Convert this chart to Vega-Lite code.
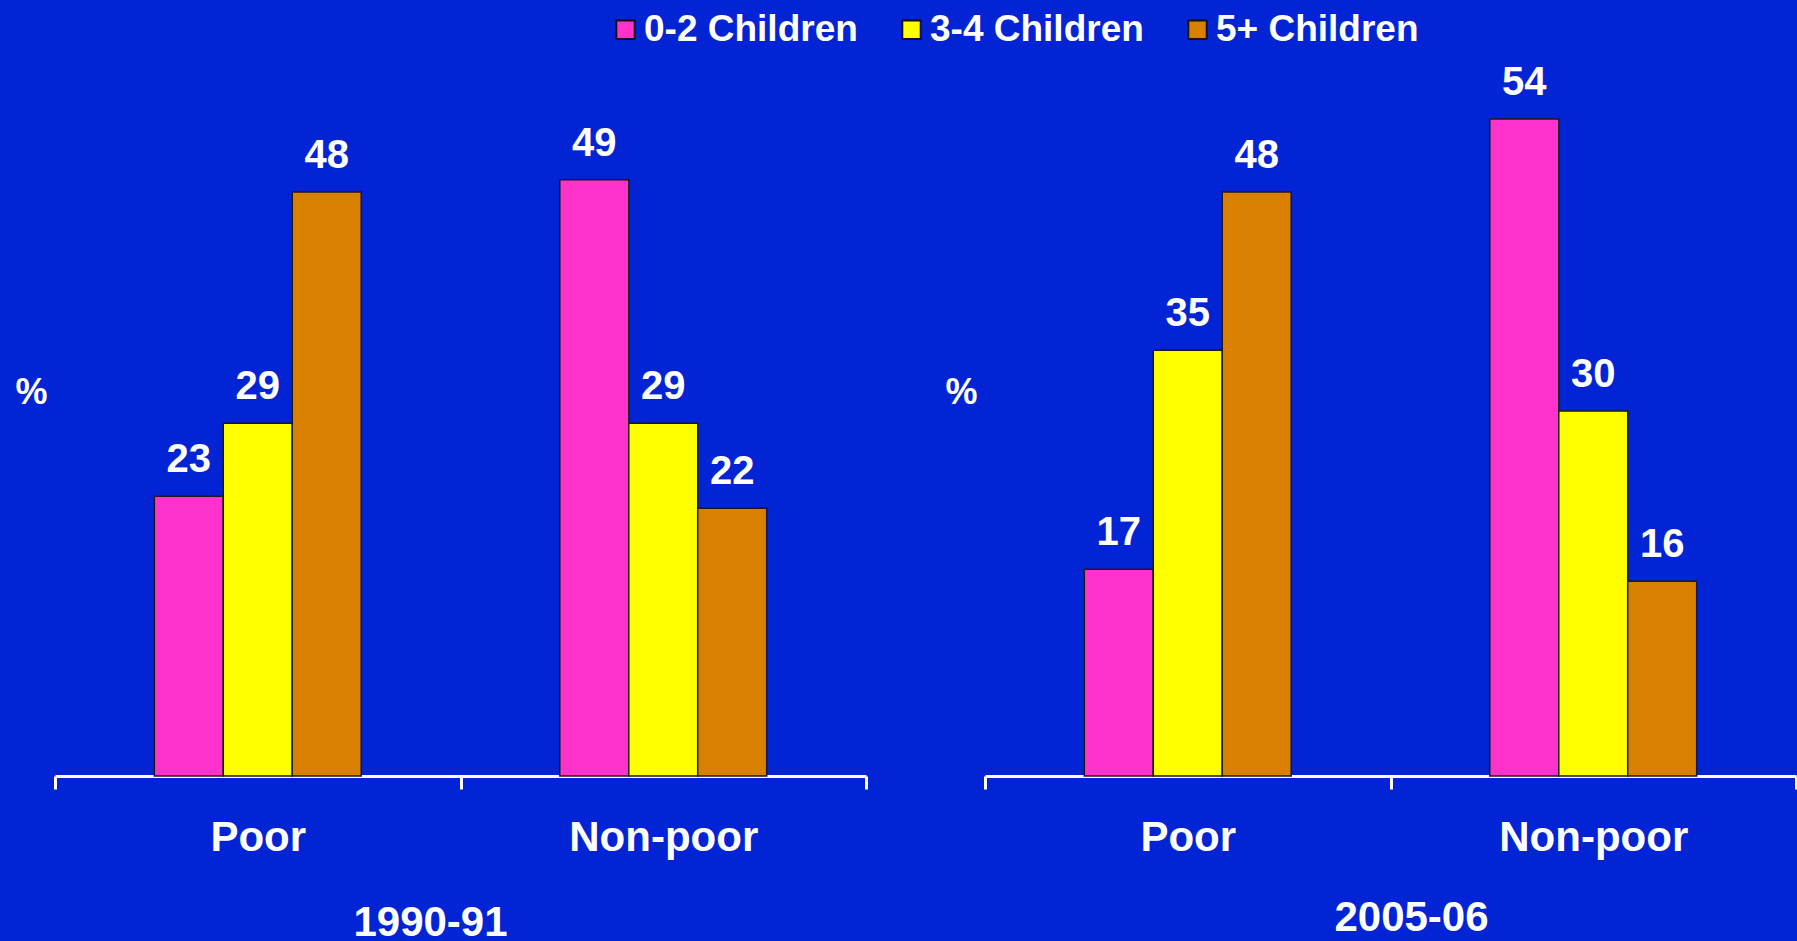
{
  "$schema": "https://vega.github.io/schema/vega-lite/v6.json",
  "background": "#0224D4",
  "padding": {"left": 14, "top": 11, "right": 0, "bottom": 0},
  "data": {"values": [
    {"period": "1990-91", "status": "Poor", "group": "0-2 Children", "value": 23},
    {"period": "1990-91", "status": "Poor", "group": "3-4 Children", "value": 29},
    {"period": "1990-91", "status": "Poor", "group": "5+ Children", "value": 48},
    {"period": "1990-91", "status": "Non-poor", "group": "0-2 Children", "value": 49},
    {"period": "1990-91", "status": "Non-poor", "group": "3-4 Children", "value": 29},
    {"period": "1990-91", "status": "Non-poor", "group": "5+ Children", "value": 22},
    {"period": "2005-06", "status": "Poor", "group": "0-2 Children", "value": 17},
    {"period": "2005-06", "status": "Poor", "group": "3-4 Children", "value": 35},
    {"period": "2005-06", "status": "Poor", "group": "5+ Children", "value": 48},
    {"period": "2005-06", "status": "Non-poor", "group": "0-2 Children", "value": 54},
    {"period": "2005-06", "status": "Non-poor", "group": "3-4 Children", "value": 30},
    {"period": "2005-06", "status": "Non-poor", "group": "5+ Children", "value": 16}
  ]},
  "spacing": 76,
  "hconcat": [
    {
      "width": 811,
      "height": 730,
      "transform": [{"filter": "datum.period === '1990-91'"}],
      "encoding": {
        "x": {"field": "status", "type": "nominal", "sort": ["Poor", "Non-poor"],
              "scale": {"paddingInner": 0, "paddingOuter": 0},
              "axis": {"title": "1990-91", "titlePadding": 44, "titleX": 375}},
        "xOffset": {"field": "group", "type": "nominal",
                    "scale": {"domain": ["a", "0-2 Children", "3-4 Children", "5+ Children", "b"], "paddingInner": 0, "paddingOuter": 0.44}},
        "y": {"field": "value", "type": "quantitative", "scale": {"domain": [0, 60]},
              "axis": {"title": "%", "labels": false, "ticks": false, "domain": false, "grid": false, "titleAngle": 0, "titlePadding": 24}}
      },
      "layer": [
        {"mark": {"type": "bar", "stroke": "#1a1a1a", "strokeWidth": 1.5},
         "encoding": {"color": {"field": "group", "type": "nominal",
           "scale": {"domain": ["0-2 Children", "3-4 Children", "5+ Children"], "range": ["#FF33CC", "#FFFF00", "#D98000"]},
           "legend": {"title": null, "orient": "none", "direction": "horizontal", "legendX": 552, "legendY": -35}}}},
        {"mark": {"type": "text", "color": "white", "fontSize": 40, "fontWeight": "bold", "baseline": "bottom", "dy": -16},
         "encoding": {"text": {"field": "value", "type": "quantitative"}}}
      ]
    },
    {
      "width": 811,
      "height": 730,
      "transform": [{"filter": "datum.period === '2005-06'"}],
      "encoding": {
        "x": {"field": "status", "type": "nominal", "sort": ["Poor", "Non-poor"],
              "scale": {"paddingInner": 0, "paddingOuter": 0},
              "axis": {"title": "2005-06", "titlePadding": 39, "titleX": 426}},
        "xOffset": {"field": "group", "type": "nominal",
                    "scale": {"domain": ["a", "0-2 Children", "3-4 Children", "5+ Children", "b"], "paddingInner": 0, "paddingOuter": 0.44}},
        "y": {"field": "value", "type": "quantitative", "scale": {"domain": [0, 60]},
              "axis": {"title": "%", "labels": false, "ticks": false, "domain": false, "grid": false, "titleAngle": 0, "titlePadding": 24}}
      },
      "layer": [
        {"mark": {"type": "bar", "stroke": "#1a1a1a", "strokeWidth": 1.5},
         "encoding": {"color": {"field": "group", "type": "nominal",
           "scale": {"domain": ["0-2 Children", "3-4 Children", "5+ Children"], "range": ["#FF33CC", "#FFFF00", "#D98000"]}}}},
        {"mark": {"type": "text", "color": "white", "fontSize": 40, "fontWeight": "bold", "baseline": "bottom", "dy": -16},
         "encoding": {"text": {"field": "value", "type": "quantitative"}}}
      ]
    }
  ],
  "config": {
    "font": "Liberation Sans",
    "view": {"stroke": null},
    "axisX": {
      "labelAngle": 0, "labelColor": "white", "labelFontSize": 42, "labelFontWeight": "bold", "labelPadding": 28, "labelLimit": 0,
      "titleColor": "white", "titleFontSize": 42, "titleFontWeight": "bold",
      "domainColor": "white", "domainWidth": 3, "tickColor": "white", "tickWidth": 3, "tickSize": 13,
      "tickBand": "extent", "grid": false
    },
    "axisY": {"titleColor": "white", "titleFontSize": 36, "titleFontWeight": "bold"},
    "legend": {
      "labelColor": "white", "labelFontSize": 37, "labelFontWeight": "bold", "labelLimit": 0,
      "symbolType": "square", "symbolSize": 340, "symbolStrokeColor": "#111", "symbolStrokeWidth": 2, "symbolOpacity": 1,
      "labelOffset": 0, "columnPadding": 35
    }
  }
}
